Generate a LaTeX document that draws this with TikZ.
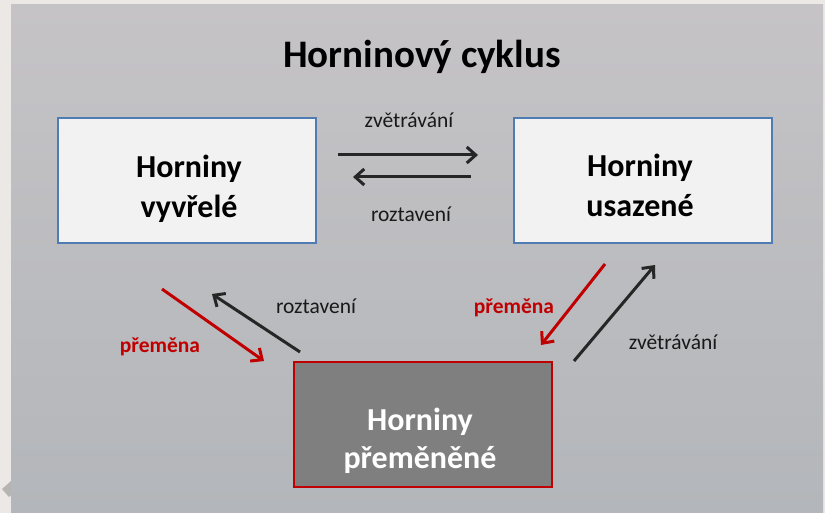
\documentclass[tikz,border=0pt]{standalone}
\usepackage{fontspec}
\setmainfont{Carlito}
\usetikzlibrary{arrows.meta}
\definecolor{outerbg}{RGB}{235,232,230}
\definecolor{bgtop}{RGB}{197,195,198}
\definecolor{bgmid}{RGB}{203,204,207}
\definecolor{bgbot}{RGB}{179,182,186}
\definecolor{boxfill}{RGB}{242,242,242}
\definecolor{boxline}{RGB}{79,124,178}
\definecolor{darkfill}{RGB}{127,127,127}
\definecolor{redc}{RGB}{192,0,0}
\definecolor{arrowc}{RGB}{38,38,38}
\tikzset{
  lightbox/.style={draw=boxline, line width=1.3pt, fill=boxfill, minimum width=258pt, minimum height=125pt, inner sep=0pt},
  darkbox/.style={draw=redc, line width=1.8pt, fill=darkfill, minimum width=258pt, minimum height=125pt, inner sep=0pt},
  boxtxt/.style={font=\fontsize{32}{40}\selectfont\bfseries, anchor=base, inner sep=0pt},
  lbl/.style={font=\fontsize{21.5}{26}\selectfont, text=black!90, anchor=base, inner sep=0pt},
  redlbl/.style={font=\fontsize{21.5}{26}\selectfont\bfseries, text=redc, anchor=base, inner sep=0pt},
  blackarr/.style={draw=arrowc, line width=3pt, -{Straight Barb[length=9pt,width=16pt]}},
  redarr/.style={draw=redc, line width=3pt, -{Straight Barb[length=9pt,width=16pt]}},
}
\begin{document}
\begin{tikzpicture}[x=1pt,y=-1pt]
\useasboundingbox (0,0) rectangle (825,513);
\fill[outerbg] (0,0) rectangle (825,513);
\shade[top color=bgtop, middle color=bgmid, bottom color=bgbot] (11,5) rectangle (823,513);
\fill[black!22!outerbg] (11,481) -- (2,489) -- (9,497) -- (11,495) -- cycle;
% title
\node[font=\fontsize{39}{46}\selectfont\bfseries, anchor=base, inner sep=0pt] (title) at (422,68) {Horninový cyklus};
% boxes
\node[lightbox] (vyv) at (187,180.5) {};
\node[lightbox] (usa) at (643,180.5) {};
\node[darkbox] (pre) at (423,424.5) {};
\node[boxtxt] (vyv1) at (189,178) {Horniny};
\node[boxtxt] (vyv2) at (189,218) {vyvřelé};
\node[boxtxt] (usa1) at (640,177) {Horniny};
\node[boxtxt] (usa2) at (640,217) {usazené};
\node[boxtxt, text=white] (pre1) at (420,430) {Horniny};
\node[boxtxt, text=white] (pre2) at (420,468) {přeměněné};
% arrow endpoints
\coordinate (a1s) at (338,155); \coordinate (a1e) at (478,155);
\coordinate (a2s) at (471,177); \coordinate (a2e) at (353,177);
\coordinate (a3s) at (162,289); \coordinate (a3e) at (264,361);
\coordinate (a4s) at (300,352); \coordinate (a4e) at (212,294);
\coordinate (a5s) at (605,264); \coordinate (a5e) at (541,345);
\coordinate (a6s) at (574,361); \coordinate (a6e) at (655,265);
\draw[blackarr] (a1s) -- (a1e);
\draw[blackarr] (a2s) -- (a2e);
\draw[redarr] (a3s) -- (a3e);
\draw[blackarr] (a4s) -- (a4e);
\draw[redarr] (a5s) -- (a5e);
\draw[blackarr] (a6s) -- (a6e);
% labels
\node[lbl] (l1) at (409,128) {zvětrávání};
\node[lbl] (l2) at (411,222) {roztavení};
\node[lbl] (l3) at (316,313) {roztavení};
\node[redlbl] (l4) at (160,352) {přeměna};
\node[redlbl] (l5) at (514,313) {přeměna};
\node[lbl] (l6) at (673,349) {zvětrávání};
\end{tikzpicture}
\end{document}
